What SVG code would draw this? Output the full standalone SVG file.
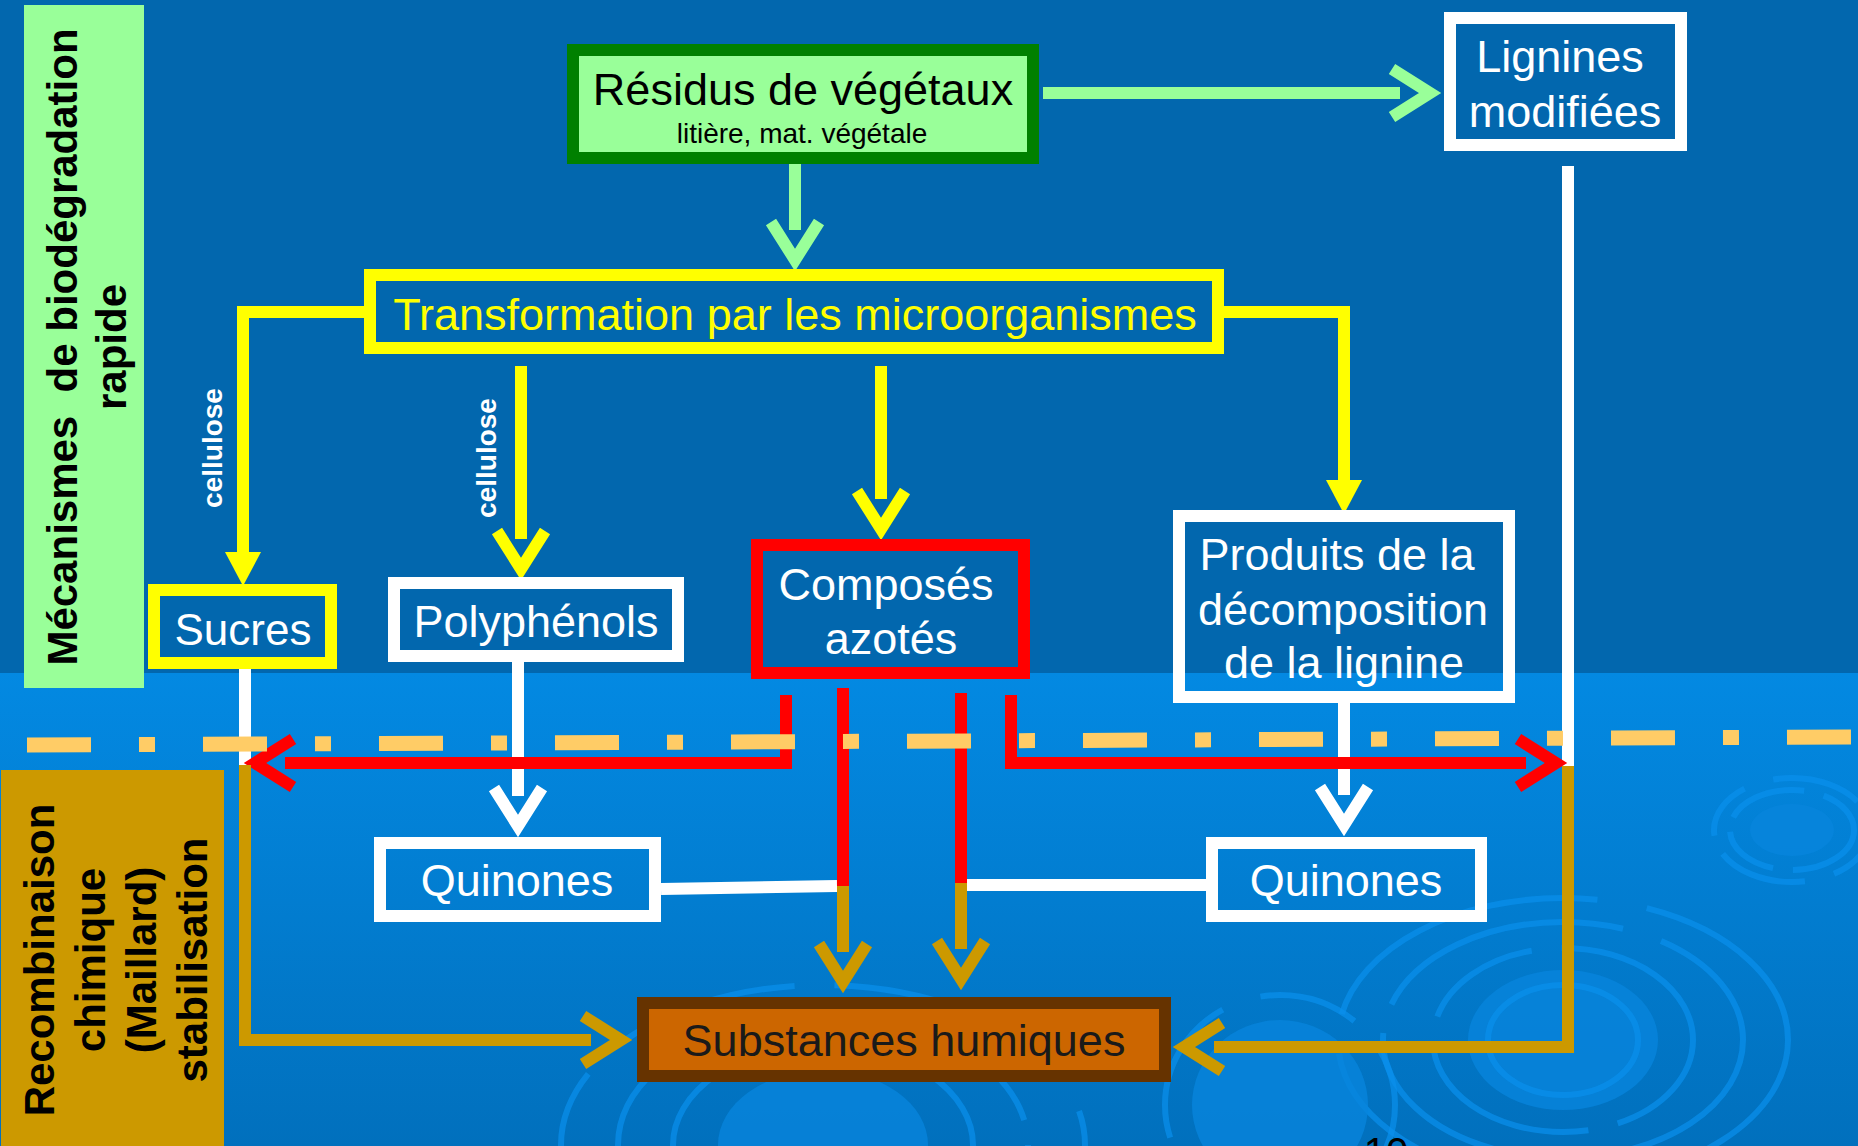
<svg xmlns="http://www.w3.org/2000/svg" width="1858" height="1146" viewBox="0 0 1858 1146">
  <defs>
    <linearGradient id="lowerBg" x1="0" y1="0" x2="0" y2="1">
      <stop offset="0" stop-color="#0389E2"/>
      <stop offset="1" stop-color="#0170BD"/>
    </linearGradient>
    <marker id="arrGreen" markerUnits="userSpaceOnUse" markerWidth="80" markerHeight="80" refX="0" refY="0" orient="auto" overflow="visible">
      <path d="M-8,-24 L30,0 L-8,24" fill="none" stroke="#99FF99" stroke-width="12"/>
    </marker>
    <marker id="arrYellow" markerUnits="userSpaceOnUse" markerWidth="80" markerHeight="80" refX="0" refY="0" orient="auto" overflow="visible">
      <path d="M-8,-24 L30,0 L-8,24" fill="none" stroke="#FFFF00" stroke-width="12"/>
    </marker>
    <marker id="triYellow" markerUnits="userSpaceOnUse" markerWidth="80" markerHeight="80" refX="0" refY="0" orient="auto" overflow="visible">
      <path d="M0,-18 L34,0 L0,18 Z" fill="#FFFF00"/>
    </marker>
    <marker id="arrWhite" markerUnits="userSpaceOnUse" markerWidth="80" markerHeight="80" refX="0" refY="0" orient="auto" overflow="visible">
      <path d="M-8,-24 L30,0 L-8,24" fill="none" stroke="#FFFFFF" stroke-width="12"/>
    </marker>
    <marker id="arrRed" markerUnits="userSpaceOnUse" markerWidth="80" markerHeight="80" refX="0" refY="0" orient="auto" overflow="visible">
      <path d="M-8,-24 L30,0 L-8,24" fill="none" stroke="#FF0000" stroke-width="12"/>
    </marker>
    <marker id="arrBrown" markerUnits="userSpaceOnUse" markerWidth="80" markerHeight="80" refX="0" refY="0" orient="auto" overflow="visible">
      <path d="M-8,-24 L30,0 L-8,24" fill="none" stroke="#CC9900" stroke-width="12"/>
    </marker>
    <style>
      text { font-family: "Liberation Sans", Arial, sans-serif; }
      .box { stroke-width: 12; fill: none; }
      .lbl { font-size: 45px; fill: #FFFFFF; text-anchor: middle; }
      .side { font-size: 42px; font-weight: bold; fill: #000000; text-anchor: middle; white-space: pre; }
      .cell { font-size: 28px; font-weight: bold; fill: #FFFFFF; text-anchor: middle; }
      .ln { fill: none; stroke-width: 12; stroke-linejoin: miter; }
      .ring { fill: none; stroke: #0A90EC; stroke-width: 6; opacity: 0.7; }
      .ringfill { fill: #0784DC; opacity: 0.8; }
    </style>
  </defs>

  <!-- background -->
  <rect x="0" y="0" width="1858" height="673" fill="#0267AE"/>
  <rect x="0" y="673" width="1858" height="473" fill="url(#lowerBg)"/>

  <!-- ripples (background decoration) -->
  <g id="ripples">
    <ellipse class="ringfill" cx="1563" cy="1040" rx="95" ry="70"/>
    <ellipse class="ring" cx="1563" cy="1040" rx="75" ry="55"/>
    <ellipse class="ring" cx="1563" cy="1040" rx="130" ry="92" stroke-dasharray="120 30 200 25"/>
    <ellipse class="ring" cx="1563" cy="1040" rx="180" ry="118" stroke-dasharray="260 40 180 30"/>
    <ellipse class="ring" cx="1563" cy="1040" rx="225" ry="142" stroke-dasharray="300 50 220 40"/>
    <ellipse class="ringfill" cx="1792" cy="830" rx="42" ry="26"/>
    <ellipse class="ring" cx="1792" cy="830" rx="62" ry="40" stroke-dasharray="80 20 60 15"/>
    <ellipse class="ring" cx="1792" cy="830" rx="78" ry="52" stroke-dasharray="60 30 90 20"/>
    <ellipse class="ringfill" cx="1280" cy="1105" rx="88" ry="85"/>
    <ellipse class="ring" cx="1280" cy="1105" rx="115" ry="110" stroke-dasharray="150 40 100 30"/>
    <ellipse class="ringfill" cx="823" cy="1145" rx="105" ry="75"/>
    <ellipse class="ring" cx="823" cy="1145" rx="150" ry="100"/>
    <ellipse class="ring" cx="823" cy="1145" rx="205" ry="130" stroke-dasharray="200 40 150 30"/>
    <ellipse class="ring" cx="823" cy="1145" rx="262" ry="160" stroke-dasharray="240 50 180 40"/>
  </g>

  <!-- side panels -->
  <g id="panel-biodegradation">
    <rect x="24" y="5" width="120" height="683" fill="#99FF99"/>
    <text class="side" transform="translate(77,347) rotate(-90)">Mécanismes  de biodégradation</text>
    <text class="side" transform="translate(126,347) rotate(-90)">rapide</text>
  </g>
  <g id="panel-recombinaison">
    <rect x="1" y="770" width="223" height="376" fill="#CC9900"/>
    <text class="side" transform="translate(54,960) rotate(-90)">Recombinaison</text>
    <text class="side" transform="translate(105,960) rotate(-90)">chimique</text>
    <text class="side" transform="translate(156,960) rotate(-90)">(Maillard)</text>
    <text class="side" transform="translate(207,960) rotate(-90)">stabilisation</text>
  </g>

  <!-- connectors -->
  <g id="connectors">
    <path class="ln" stroke="#99FF99" d="M795 164 V230" marker-end="url(#arrGreen)"/>
    <path class="ln" stroke="#99FF99" d="M1043 93 H1400" marker-end="url(#arrGreen)"/>

    <path class="ln" stroke="#FFFF00" d="M364 312 H243 V552" marker-end="url(#triYellow)"/>
    <path class="ln" stroke="#FFFF00" d="M521 366 V539" marker-end="url(#arrYellow)"/>
    <path class="ln" stroke="#FFFF00" d="M881 366 V499" marker-end="url(#arrYellow)"/>
    <path class="ln" stroke="#FFFF00" d="M1224 312 H1344 V480" marker-end="url(#triYellow)"/>

    <path class="ln" stroke="#FFFFFF" d="M245 669 V765"/>
    <path class="ln" stroke="#FFFFFF" d="M518 662 V796" marker-end="url(#arrWhite)"/>
    <path class="ln" stroke="#FFFFFF" d="M1344 703 V795" marker-end="url(#arrWhite)"/>
    <path class="ln" stroke="#FFFFFF" d="M1568 166 V766"/>
    <path class="ln" stroke="#FFFFFF" d="M661 889 L837 886"/>
    <path class="ln" stroke="#FFFFFF" d="M967 885 H1206"/>

    <path class="ln" stroke="#FF0000" d="M786 695 V763 H285" marker-end="url(#arrRed)"/>
    <path class="ln" stroke="#FF0000" d="M1011 695 V763 H1526" marker-end="url(#arrRed)"/>
    <path class="ln" stroke="#FF0000" d="M843 688 V886"/>
    <path class="ln" stroke="#FF0000" d="M961 693 V883"/>

    <path class="ln" stroke="#CC9900" d="M245 765 V1040 H591" marker-end="url(#arrBrown)"/>
    <path class="ln" stroke="#CC9900" d="M1568 766 V1047 H1214" marker-end="url(#arrBrown)"/>
    <path class="ln" stroke="#CC9900" d="M843 886 V952" marker-end="url(#arrBrown)"/>
    <path class="ln" stroke="#CC9900" d="M961 883 V949" marker-end="url(#arrBrown)"/>
  </g>

  <!-- cellulose labels -->
  <text class="cell" transform="translate(222,448) rotate(-90)">cellulose</text>
  <text class="cell" transform="translate(496,458) rotate(-90)">cellulose</text>

  <!-- dash-dot separator -->
  <path id="separator" d="M27 745 L1858 737" fill="none" stroke="#FFCC66" stroke-width="15" stroke-dasharray="64 48 16 48"/>

  <!-- nodes -->
  <g id="node-residus">
    <rect class="box" x="573" y="50" width="460" height="108" fill="#99FF99" stroke="#008000" style="fill:#99FF99"/>
    <text x="803" y="105" font-size="45" fill="#000000" text-anchor="middle">Résidus de végétaux</text>
    <text x="802" y="143" font-size="28" fill="#000000" text-anchor="middle">litière, mat. végétale</text>
  </g>
  <g id="node-transformation">
    <rect class="box" x="370" y="275" width="848" height="73" stroke="#FFFF00"/>
    <text class="lbl" x="795" y="330" style="fill:#FFFF00">Transformation par les microorganismes</text>
  </g>
  <g id="node-lignines">
    <rect class="box" x="1450" y="18" width="231" height="127" stroke="#FFFFFF"/>
    <text class="lbl" x="1560" y="72">Lignines</text>
    <text class="lbl" x="1565" y="127">modifiées</text>
  </g>
  <g id="node-sucres">
    <rect class="box" x="154" y="590" width="177" height="73" stroke="#FFFF00"/>
    <text class="lbl" x="243" y="645" style="font-size:44px">Sucres</text>
  </g>
  <g id="node-polyphenols">
    <rect class="box" x="394" y="583" width="284" height="73" stroke="#FFFFFF"/>
    <text class="lbl" x="536" y="637">Polyphénols</text>
  </g>
  <g id="node-azotes">
    <rect class="box" x="757" y="545" width="267" height="128" stroke="#FF0000"/>
    <text class="lbl" x="886" y="600">Composés</text>
    <text class="lbl" x="891" y="654">azotés</text>
  </g>
  <g id="node-produits">
    <rect class="box" x="1179" y="516" width="330" height="181" stroke="#FFFFFF"/>
    <text class="lbl" x="1337" y="570">Produits de la</text>
    <text class="lbl" x="1343" y="625">décomposition</text>
    <text class="lbl" x="1344" y="678">de la lignine</text>
  </g>
  <g id="node-quinones-left">
    <rect class="box" x="380" y="843" width="275" height="73" stroke="#FFFFFF"/>
    <text class="lbl" x="517" y="896">Quinones</text>
  </g>
  <g id="node-quinones-right">
    <rect class="box" x="1212" y="843" width="269" height="73" stroke="#FFFFFF"/>
    <text class="lbl" x="1346" y="896">Quinones</text>
  </g>
  <g id="node-substances">
    <rect class="box" x="643" y="1003" width="522" height="73" stroke="#663300" style="fill:#CC6600"/>
    <text class="lbl" x="904" y="1056" style="fill:#1A1A1A">Substances humiques</text>
  </g>

  <!-- page number (partially visible) -->
  <text x="1386" y="1166" font-size="40" fill="#000000" text-anchor="middle">10</text>
</svg>
